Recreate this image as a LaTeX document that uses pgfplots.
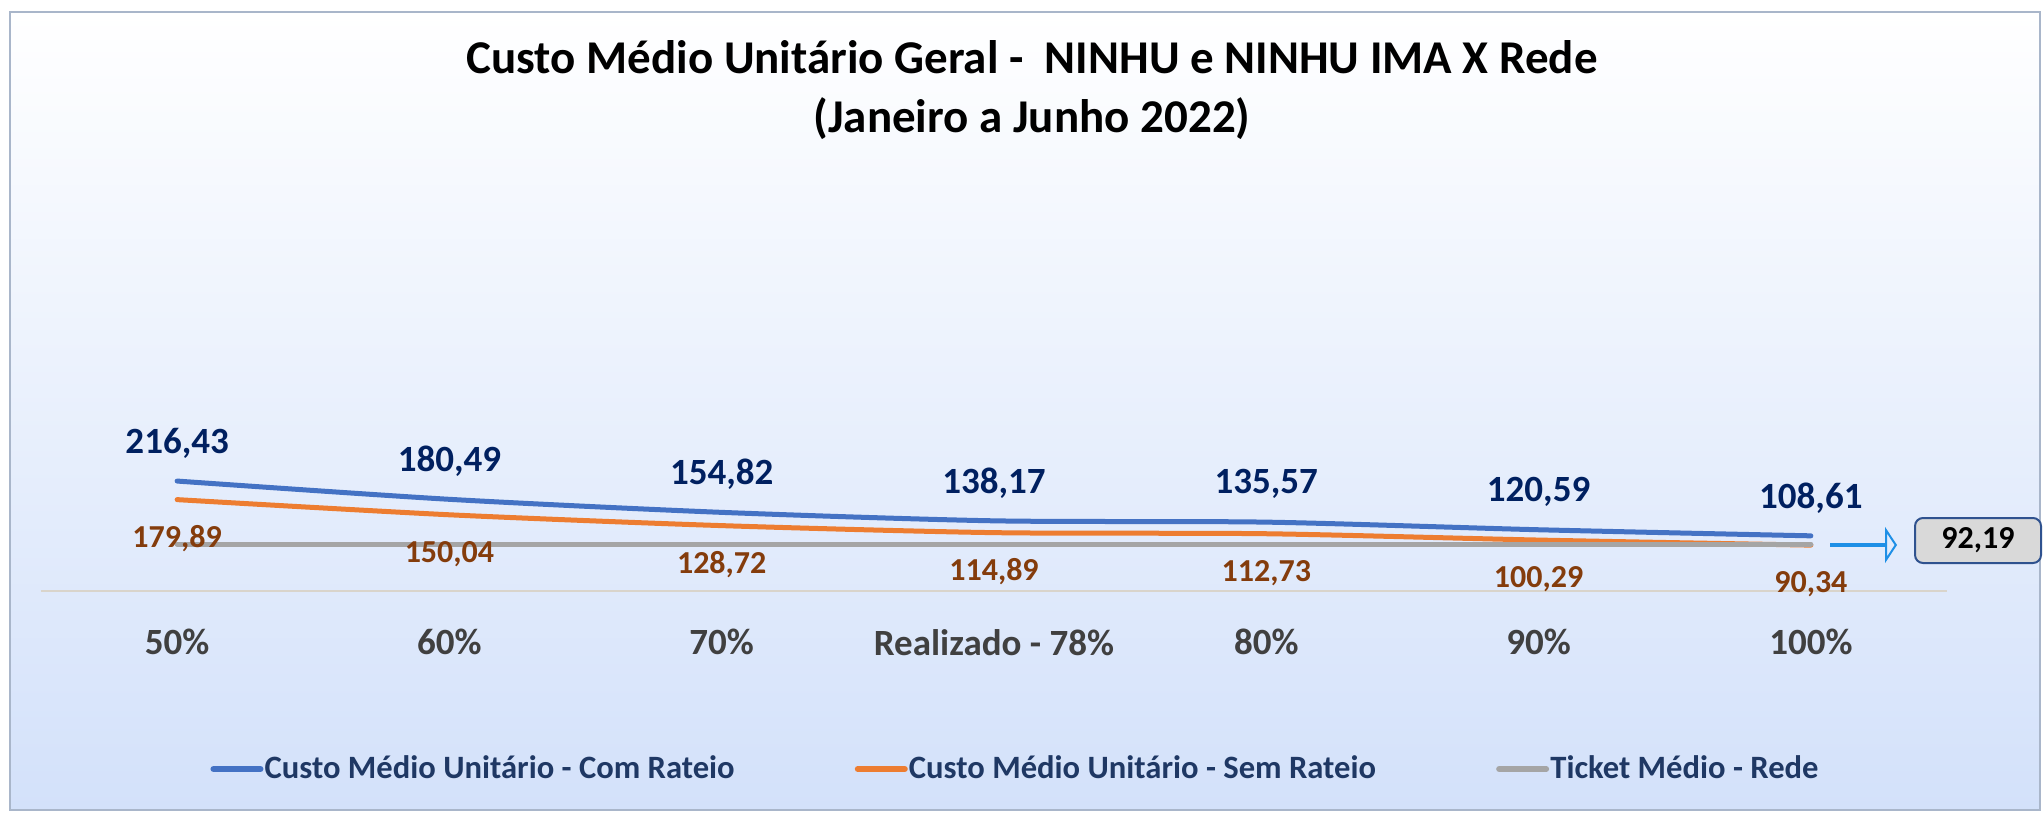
\documentclass[border=0pt]{standalone}
\usepackage{pgfplots}
\pgfplotsset{compat=1.18}
\usepackage{fontspec}
\setmainfont{Carlito}
\usetikzlibrary{arrows.meta}
\definecolor{cblue}{HTML}{4472C4}
\definecolor{corange}{HTML}{ED7D31}
\definecolor{cgray}{HTML}{A5A5A5}
\definecolor{navy}{HTML}{002060}
\definecolor{lblbrown}{HTML}{843C0C}
\definecolor{ticktext}{HTML}{404040}
\definecolor{legtext}{HTML}{1F3864}
\definecolor{axisline}{HTML}{D9D4CB}
\definecolor{bgbottom}{HTML}{D3E1FA}
\definecolor{arrowblue}{HTML}{1E8FE6}
\definecolor{boxborder}{HTML}{2F528F}
\definecolor{boxfill}{HTML}{D9D9D9}
\definecolor{framecol}{HTML}{A9B6CA}
\begin{document}
\begin{tikzpicture}
\fill[white] (0,0) rectangle (1022pt,-407pt);
\shade[top color=white, bottom color=bgbottom] (5pt,-6pt) rectangle (1020pt,-405pt);
\draw[color=framecol, line width=1.1pt] (5pt,-6pt) rectangle (1020pt,-405pt);
\node[font=\fontsize{23.5}{29.5}\selectfont\bfseries, align=center] at (516pt,-45pt)
  {Custo Médio Unitário Geral -\ \ NINHU e NINHU IMA X Rede\\(Janeiro a Junho 2022)};
\begin{axis}[
  at={(20.5pt,-295.5pt)}, anchor=south west,
  scale only axis, width=953pt, height=60.96pt,
  xmin=-0.5, xmax=6.5, ymin=0, ymax=240,
  axis x line=bottom, axis y line=none,
  x axis line style={draw=axisline, line width=0.8pt, -},
  xtick={0,...,6},
  xticklabels={50\%,60\%,70\%,Realizado - 78\%,80\%,90\%,100\%},
  xtick style={draw=none}, ytick=\empty,
  xticklabel style={font=\fontsize{18.5}{20}\selectfont\bfseries, text=ticktext, anchor=center, yshift=-23.5pt},
  clip=false,
  legend columns=3,
  legend cell align=left,
  legend image code/.code={\draw[#1, line width=3pt] (0pt,0pt) -- (23.5pt,0pt);},
  legend style={at={(0.0887,-1.46)}, anchor=west, draw=none, fill=none,
    inner xsep=0pt, inner ysep=0pt,
    font=\fontsize{16.3}{18}\selectfont\bfseries, text=legtext,
    nodes={inner xsep=0.6pt, inner ysep=1pt},
    /tikz/every even column/.append style={column sep=59.5pt}},
]
\addplot[cblue, line width=2.5pt, smooth, tension=0.45, line cap=round]
  coordinates {(0,216.43)(1,180.49)(2,154.82)(3,138.17)(4,135.57)(5,120.59)(6,108.61)};
\addlegendentry{Custo Médio Unitário - Com Rateio}
\addplot[corange, line width=2.5pt, smooth, tension=0.45, line cap=round]
  coordinates {(0,179.89)(1,150.04)(2,128.72)(3,114.89)(4,112.73)(5,100.29)(6,90.34)};
\addlegendentry{Custo Médio Unitário - Sem Rateio}
\addplot[cgray, line width=2.5pt, line cap=round]
  coordinates {(0,92.19)(1,92.19)(2,92.19)(3,92.19)(4,92.19)(5,92.19)(6,92.19)};
\addlegendentry{Ticket Médio - Rede}
% data labels
\addplot[draw=none, mark=none, forget plot,
  nodes near coords={\pgfmathprintnumber[fixed,fixed zerofill,precision=2,use comma,assume math mode=true]{\pgfplotspointmeta}},
  every node near coord/.append style={anchor=center, yshift=19pt, font=\fontsize{18.5}{20}\selectfont\bfseries, text=navy}]
  coordinates {(0,216.43)(1,180.49)(2,154.82)(3,138.17)(4,135.57)(5,120.59)(6,108.61)};
\addplot[draw=none, mark=none, forget plot,
  nodes near coords={\pgfmathprintnumber[fixed,fixed zerofill,precision=2,use comma,assume math mode=true]{\pgfplotspointmeta}},
  every node near coord/.append style={anchor=center, yshift=-19.5pt, font=\fontsize{16}{18}\selectfont\bfseries, text=lblbrown}]
  coordinates {(0,179.89)(1,150.04)(2,128.72)(3,114.89)(4,112.73)(5,100.29)(6,90.34)};
\end{axis}
% annotation arrow and value box
\draw[arrowblue, line width=2pt, -{Triangle[open, length=6pt, width=18pt, line width=1pt]}] (915pt,-272.5pt) -- (948.5pt,-272.5pt);
\draw[boxborder, fill=boxfill, line width=1pt, rounded corners=4pt] (957.5pt,-259pt) rectangle (1020.5pt,-281.5pt);
\node[font=\fontsize{16}{18}\selectfont\bfseries, text=black] at (989pt,-270.25pt) {92,19};
\end{tikzpicture}
\end{document}
